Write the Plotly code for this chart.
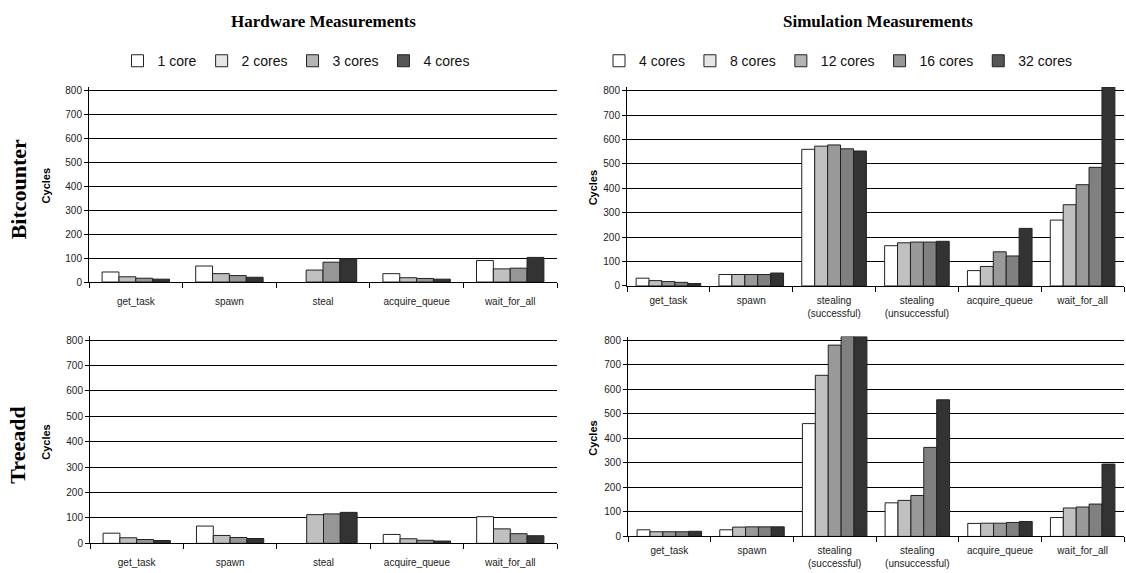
import plotly.graph_objects as go

# ---------------- data ----------------
hw_categories = ["get_task", "spawn", "steal", "acquire_queue", "wait_for_all"]
hw_series = ["1 core", "2 cores", "3 cores", "4 cores"]
hw_colors = ["#ffffff", "#c0c0c0", "#969696", "#333333"]
hw_legend_colors = ["#ffffff", "#e6e6e6", "#b4b4b4", "#555555"]

hw_bitcounter_1 = [42, 67, None, 35, 90]
hw_bitcounter_2 = [22, 35, 50, 18, 55]
hw_bitcounter_3 = [16, 27, 83, 15, 58]
hw_bitcounter_4 = [12, 20, 97, 12, 103]

hw_treeadd_1 = [40, 68, None, 35, 105]
hw_treeadd_2 = [22, 31, 113, 18, 57]
hw_treeadd_3 = [15, 23, 116, 12, 38]
hw_treeadd_4 = [11, 19, 122, 9, 30]

sim_categories = ["get_task", "spawn", "stealing<br>(successful)",
                  "stealing<br>(unsuccessful)", "acquire_queue", "wait_for_all"]
sim_series = ["4 cores", "8 cores", "12 cores", "16 cores", "32 cores"]
sim_colors = ["#ffffff", "#c0c0c0", "#999999", "#808080", "#333333"]
sim_legend_colors = ["#ffffff", "#e6e6e6", "#b4b4b4", "#969696", "#555555"]

sim_bitcounter_4 = [32, 47, 560, 165, 63, 270]
sim_bitcounter_8 = [22, 47, 573, 177, 80, 333]
sim_bitcounter_12 = [18, 47, 578, 180, 140, 415]
sim_bitcounter_16 = [15, 47, 562, 180, 123, 486]
sim_bitcounter_32 = [10, 53, 553, 183, 236, 815]

sim_treeadd_4 = [27, 27, 460, 137, 53, 77]
sim_treeadd_8 = [19, 38, 657, 147, 54, 116]
sim_treeadd_12 = [19, 39, 780, 167, 54, 120]
sim_treeadd_16 = [19, 39, 815, 363, 57, 132]
sim_treeadd_32 = [21, 39, 815, 557, 61, 295]

y_ticks = [0, 100, 200, 300, 400, 500, 600, 700, 800]

W, H = 1126, 573
SANS = "Liberation Sans, Arial, sans-serif"
SERIF = "Liberation Serif, Times New Roman, serif"

fig = go.Figure()

def add_group(xa, ya, cats, names, colors, values, group_frac):
    n = len(names)
    w = group_frac / n
    for k, (name, col, vals) in enumerate(zip(names, colors, values)):
        fig.add_trace(go.Bar(
            x=cats, y=vals, name=name, xaxis=xa, yaxis=ya,
            width=w, offset=-group_frac / 2 + k * w,
            marker=dict(color=col, line=dict(color="#222222", width=1)),
            showlegend=False))

def add_legend(names, colors, legend):
    # legend-only entries live on a hidden helper axis so they don't affect the charts
    for name, col in zip(names, colors):
        fig.add_trace(go.Bar(
            x=[None], y=[None], name=name, xaxis="x5", yaxis="y5",
            marker=dict(color=col, line=dict(color="#222222", width=1)),
            showlegend=True, legend=legend))

HW_GROUP = 0.72
SIM_GROUP = 0.78
add_group("x", "y", hw_categories, hw_series, hw_colors,
          [hw_bitcounter_1, hw_bitcounter_2, hw_bitcounter_3, hw_bitcounter_4], HW_GROUP)
add_group("x2", "y2", sim_categories, sim_series, sim_colors,
          [sim_bitcounter_4, sim_bitcounter_8, sim_bitcounter_12, sim_bitcounter_16, sim_bitcounter_32], SIM_GROUP)
add_group("x3", "y3", hw_categories, hw_series, hw_colors,
          [hw_treeadd_1, hw_treeadd_2, hw_treeadd_3, hw_treeadd_4], HW_GROUP)
add_group("x4", "y4", sim_categories, sim_series, sim_colors,
          [sim_treeadd_4, sim_treeadd_8, sim_treeadd_12, sim_treeadd_16, sim_treeadd_32], SIM_GROUP)
add_legend(hw_series, hw_legend_colors, "legend")
add_legend(sim_series, sim_legend_colors, "legend2")

def px_x(p):
    return p / W

def px_y(p):
    return 1 - p / H

def xcommon(standoff):
    return dict(type="category", showline=True, linecolor="black", linewidth=1,
                ticks="outside", tickson="boundaries", ticklen=5, tickcolor="black",
                tickfont=dict(family=SANS, size=10, color="#222222"), showgrid=False,
                zeroline=False, fixedrange=True, ticklabelstandoff=standoff)

def ycommon(top):
    return dict(range=[0, top], tickvals=y_ticks, showline=True, linecolor="black",
                linewidth=1, ticks="outside", ticklen=4, tickcolor="black",
                tickfont=dict(family=SANS, size=10, color="#222222"),
                showgrid=True, gridcolor="black", gridwidth=1, zeroline=False,
                fixedrange=True)

# pixel boxes: (left, right, y800, y0, label standoff)
boxes = {
    1: (89, 557, 90, 284, 10),
    2: (627, 1124, 90, 288, 5),
    3: (90, 557, 343, 549, 10),
    4: (628, 1124, 343, 542, 5),
}
TOP = 815
layout = {}
for i, (l, r, y800, y0, so) in boxes.items():
    s = "" if i == 1 else str(i)
    per = (y0 - y800) / 800.0
    ytop_px = y0 - TOP * per
    layout["xaxis" + s] = dict(xcommon(so), domain=[px_x(l), px_x(r)], anchor="y" + s)
    layout["yaxis" + s] = dict(ycommon(TOP), domain=[px_y(y0), px_y(ytop_px)], anchor="x" + s)

layout["xaxis5"] = dict(domain=[0, 0.01], visible=False, anchor="y5")
layout["yaxis5"] = dict(domain=[0, 0.01], visible=False, anchor="x5")
fig.update_layout(**layout)

fig.update_layout(
    width=W, height=H, margin=dict(l=0, r=0, t=0, b=0),
    paper_bgcolor="white", plot_bgcolor="white",
    barmode="overlay",
    legend=dict(orientation="h", x=px_x(296), y=px_y(60), xanchor="center", yanchor="middle",
                font=dict(family=SANS, size=14, color="#111111"),
                bgcolor="rgba(0,0,0,0)"),
    legend2=dict(orientation="h", x=px_x(838), y=px_y(60), xanchor="center", yanchor="middle",
                 font=dict(family=SANS, size=14, color="#111111"),
                 bgcolor="rgba(0,0,0,0)"),
    showlegend=True,
)

annotations = [
    dict(text="<b>Hardware Measurements</b>", x=px_x(323), y=px_y(20),
         font=dict(family=SERIF, size=17, color="black")),
    dict(text="<b>Simulation Measurements</b>", x=px_x(878), y=px_y(20),
         font=dict(family=SERIF, size=17, color="black")),
    dict(text="<b>Bitcounter</b>", x=px_x(18), y=px_y(190), textangle=-90,
         font=dict(family=SERIF, size=22, color="black")),
    dict(text="<b>Treeadd</b>", x=px_x(18), y=px_y(450), textangle=-90,
         font=dict(family=SERIF, size=22, color="black")),
    dict(text="<b>Cycles</b>", x=px_x(46), y=px_y(187), textangle=-90,
         font=dict(family=SANS, size=11, color="black")),
    dict(text="<b>Cycles</b>", x=px_x(593), y=px_y(189), textangle=-90,
         font=dict(family=SANS, size=11, color="black")),
    dict(text="<b>Cycles</b>", x=px_x(46), y=px_y(447), textangle=-90,
         font=dict(family=SANS, size=11, color="black")),
    dict(text="<b>Cycles</b>", x=px_x(593), y=px_y(443), textangle=-90,
         font=dict(family=SANS, size=11, color="black")),
]
for a in annotations:
    a.update(xref="paper", yref="paper", showarrow=False, xanchor="center", yanchor="middle")
fig.update_layout(annotations=annotations)

fig.write_html("out.html", config={"displayModeBar": False},
               post_script="document.body.style.margin='0';document.body.style.padding='0';")
